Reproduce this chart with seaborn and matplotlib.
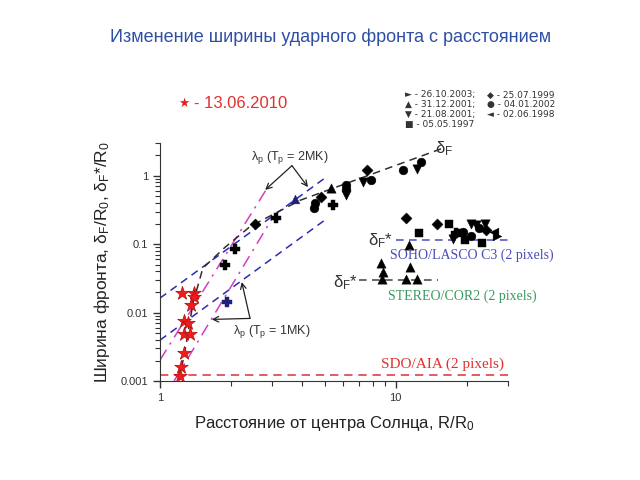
import numpy as np
import pandas as pd
import matplotlib
matplotlib.use("Agg")
import matplotlib.pyplot as plt
import seaborn as sns

# ---- data (R/R0, width/R0) ----
star_x = [1.24, 1.39, 1.40, 1.35, 1.26, 1.32, 1.26, 1.34, 1.27, 1.23, 1.21]
star_y = [0.0195, 0.0195, 0.0170, 0.0129, 0.0076, 0.0071, 0.0049, 0.0049, 0.0026, 0.0016, 0.0012]

diamond_x = [2.52, 4.80, 7.58, 11.06, 14.99, 24.2]
diamond_y = [0.194, 0.490, 1.20, 0.245, 0.196, 0.160]
circle_x = [4.49, 4.55, 6.13, 6.13, 7.83, 10.78, 12.78, 19.22, 22.5, 20.85]
circle_y = [0.343, 0.40, 0.744, 0.635, 0.880, 1.20, 1.59, 0.151, 0.171, 0.131]
down_x = [6.13, 7.29, 12.37, 17.43, 20.85, 21.9, 23.9]
down_y = [0.519, 0.812, 1.27, 0.121, 0.196, 0.189, 0.196]
up_x = [5.29, 11.40, 8.64, 8.87, 8.72, 11.03, 12.37, 11.51]
up_y = [0.672, 0.0967, 0.0523, 0.0394, 0.0305, 0.0305, 0.0305, 0.0466]
square_x = [12.53, 16.90, 19.66, 23.15, 19.0]
square_y = [0.147, 0.196, 0.117, 0.1045, 0.144]
left_x = [26.2]
left_y = [0.151]
right_x = [26.8]
right_y = [0.133]
plus_x = [3.12, 2.085, 1.891, 5.43, 18.0]
plus_y = [0.245, 0.0837, 0.0494, 0.371, 0.146]
navy_up_x = [3.75]
navy_up_y = [0.4645]
navy_plus_x = [1.92]
navy_plus_y = [0.0144]

# lines
dF_x = [1.205, 1.29, 1.38, 1.52, 1.89, 2.42, 3.94, 7.10, 16.3]
dF_y = [0.00103, 0.00335, 0.0138, 0.0447, 0.0904, 0.183, 0.439, 0.920, 2.61]
blue1_x, blue1_y = [1.0, 5.135], [0.0163, 0.984]
blue2_x, blue2_y = [1.0, 5.135], [0.00397, 0.2397]
mag1_x, mag1_y = [1.0, 2.881], [0.00203, 0.702]
mag2_x, mag2_y = [1.147, 2.996], [0.001, 0.2397]
soho_x, soho_y = [10.0, 30.0], [0.114, 0.114]
stereo_x, stereo_y = [6.96, 15.1], [0.0298, 0.0298]
sdo_x, sdo_y = [1.0, 30.0], [0.00122, 0.00122]

legend_rows = [("►", "26.10.2003;"), ("▲", "31.12.2001;"), ("▼", "21.08.2001;"), ("■", "05.05.1997")]
legend_rows2 = [("◆", "25.07.1999"), ("●", "04.01.2002"), ("◄", "02.06.1998")]

sns.set_style("ticks")
plt.rcParams["font.family"] = ["Liberation Sans", "DejaVu Sans"]
plt.rcParams["mathtext.default"] = "regular"

fig = plt.figure(figsize=(6.4, 4.8), dpi=100)
ax = fig.add_axes([0.25, 0.206, 0.544, 0.496])

# reference lines
ax.plot(sdo_x, sdo_y, color="#e04040", lw=1.2, dashes=(5, 3.5))
ax.plot(blue1_x, blue1_y, color="#2c2cb0", lw=1.1, dashes=(5, 3.5))
ax.plot(blue2_x, blue2_y, color="#2c2cb0", lw=1.1, dashes=(5, 3.5))
ax.plot(mag1_x, mag1_y, color="#d040c0", lw=1.1, dashes=(8, 4, 1.5, 4))
ax.plot(mag2_x, mag2_y, color="#d040c0", lw=1.1, dashes=(8, 4, 1.5, 4))
ax.plot(dF_x, dF_y, color="#303030", lw=1.1, dashes=(5, 3.5))
ax.plot(soho_x, soho_y, color="#4a4ac0", lw=1.1, dashes=(5, 3.5))
ax.plot(stereo_x, stereo_y, color="#404040", lw=1.1, dashes=(5, 3.5))

groups = [
    (diamond_x, diamond_y, "D", "black", 32),
    (circle_x, circle_y, "o", "black", 40),
    (down_x, down_y, "v", "black", 45),
    (up_x, up_y, "^", "black", 45),
    (square_x, square_y, "s", "black", 36),
    (left_x, left_y, "<", "black", 40),
    (right_x, right_y, ">", "black", 40),
    (plus_x, plus_y, "P", "black", 55),
    (navy_up_x, navy_up_y, "^", "#20207a", 40),
    (navy_plus_x, navy_plus_y, "P", "#20207a", 55),
]
for gx, gy, m, c, s in groups:
    sns.scatterplot(x=gx, y=gy, marker=m, color=c, s=s, edgecolor=c, linewidth=0.3, ax=ax, zorder=3)
sns.scatterplot(x=star_x, y=star_y, marker="*", color="#ee1c1c", s=105, edgecolor="#b01010",
                linewidth=0.5, ax=ax, zorder=4)

ax.set_xscale("log")
ax.set_yscale("log")
ax.set_xlim(1, 30)
ax.set_ylim(0.001, 3)
ax.set_xticks([1, 10])
ax.set_xticklabels(["1", "10"])
ax.set_yticks([0.001, 0.01, 0.1, 1])
ax.set_yticklabels(["0.001", "0.01", "0.1", "1"])
ax.tick_params(which="major", length=5, width=1, labelsize=8, color="#333333", labelcolor="#333333")
ax.tick_params(which="minor", length=3.5, width=0.8, color="#333333")
ax.tick_params(axis="x", which="minor", labelbottom=False)
for sp in ["left", "bottom"]:
    ax.spines[sp].set_color("#333333")
sns.despine(ax=ax)

ax.set_xlabel("Расстояние от центра Солнца, R/R$_0$", fontsize=12, color="#222222", labelpad=8)
ax.set_ylabel("Ширина фронта, δ$_F$/R$_0$, δ$_F$*/R$_0$", fontsize=12.5, color="#222222", labelpad=6)

# annotations inside axes
ax.text(0.374, 0.941, r"$\lambda_p$ (T$_p$ = 2MK)", transform=ax.transAxes, ha="center", va="center",
        fontsize=9, color="#333333")
for tip in [(0.302, 0.803), (0.425, 0.815)]:
    ax.annotate("", xy=tip, xytext=(0.379, 0.905), xycoords="axes fraction",
                arrowprops=dict(arrowstyle="->", color="#222222", lw=0.9, shrinkA=0, shrinkB=0))
ax.text(0.21, 0.21, r"$\lambda_p$ (T$_p$ = 1MK)", transform=ax.transAxes, ha="left", va="center",
        fontsize=9, color="#333333")
for tip in [(0.2348, 0.416), (0.1486, 0.2592)]:
    ax.annotate("", xy=tip, xytext=(0.2586, 0.2634), xycoords="axes fraction",
                arrowprops=dict(arrowstyle="->", color="#222222", lw=0.9, shrinkA=0, shrinkB=0))

ax.text(0.79, 0.975, "δ$_F$", transform=ax.transAxes, ha="left", va="center", fontsize=12, color="#333333")
ax.text(0.598, 0.592, "δ$_F$*", transform=ax.transAxes, ha="left", va="center", fontsize=12, color="#333333")
ax.text(0.497, 0.412, "δ$_F$*", transform=ax.transAxes, ha="left", va="center", fontsize=12, color="#333333")

serif = ["Liberation Serif", "DejaVu Serif"]
ax.text(0.661, 0.529, "SOHO/LASCO C3 (2 pixels)", transform=ax.transAxes, ha="left", va="center",
        fontsize=10, color="#4a4ab8", family=serif)
ax.text(0.655, 0.357, "STEREO/COR2 (2 pixels)", transform=ax.transAxes, ha="left", va="center",
        fontsize=10, color="#3a9a60", family=serif)
ax.text(0.635, 0.0714, "SDO/AIA (2 pixels)", transform=ax.transAxes, ha="left", va="center",
        fontsize=11, color="#e03030", family=serif)

# title and legends in figure coordinates
fig.text(0.516, 0.923, "Изменение ширины ударного фронта с расстоянием", ha="center", va="center",
         fontsize=13, color="#2f4fa5")
fig.text(178 / 640, 1 - 103 / 480, "★", ha="left", va="center", fontsize=9, color="#e02020",
         family=["DejaVu Sans"])
fig.text(194 / 640, 1 - 103 / 480, "- 13.06.2010", ha="left", va="center", fontsize=12, color="#e03030")
for i, (sym, txt) in enumerate(legend_rows):
    fig.text(405 / 640, 1 - (95 + 9.8 * i) / 480, sym + " - " + txt, ha="left", va="center",
             fontsize=6.5, color="#333333", family=["DejaVu Sans"])
for i, (sym, txt) in enumerate(legend_rows2):
    fig.text(487 / 640, 1 - (95 + 9.8 * i) / 480, sym + " - " + txt, ha="left", va="center",
             fontsize=6.5, color="#333333", family=["DejaVu Sans"])

fig.savefig("out.png", dpi=100)
